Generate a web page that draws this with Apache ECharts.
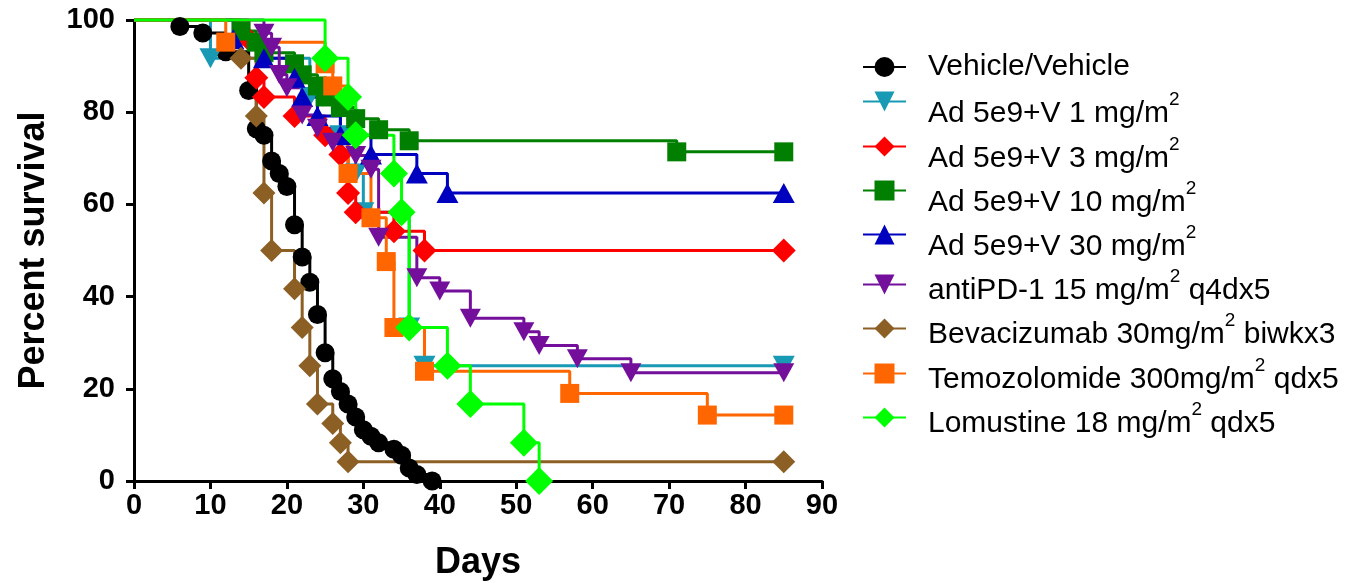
<!DOCTYPE html>
<html>
<head>
<meta charset="utf-8">
<title>Survival</title>
<script src="https://cdn.jsdelivr.net/npm/echarts@6/dist/echarts.min.js"></script>
<style>
  html, body { margin: 0; padding: 0; background: #fff; }
  #chart { width: 1357px; height: 583px; }
</style>
</head>
<body>
<div id="chart"></div>
<script>
// Kaplan-Meier survival: [day, percent surviving] at each step (first point is the start)
const vehicle = [[0,100],[6,98.6],[9,97.2],[12,93.1],[15,84.7],[16,76.4],[17,75],[18,69.4],[19,66.7],[20,63.9],[21,55.6],[22,48.6],[23,43.1],[24,36.1],[25,27.8],[26,22.2],[27,19.4],[28,16.7],[29,13.9],[30,11.1],[31,9.7],[32,8.3],[34,6.9],[35,5.6],[36,2.8],[37,1.4],[39,0]];
const ad1 = [[0,100],[10,91.7],[23,83.3],[27,75],[29,66.7],[30,58.3],[36,33.3],[38,25],[85,25]];
const ad3 = [[0,100],[15,95.8],[16,87.5],[17,83.3],[21,79.2],[25,75],[27,70.8],[28,62.5],[29,58.3],[34,54.2],[38,50],[85,50]];
const ad10 = [[0,100],[14,97.6],[16,95.2],[17,92.9],[21,90.5],[22,88.1],[24,85.7],[25,83.3],[27,81],[29,78.6],[32,76.2],[36,73.8],[71,71.4],[85,71.4]];
const ad30 = [[0,100],[13,95.8],[17,91.7],[21,87.5],[22,83.3],[24,79.2],[27,75],[31,70.8],[37,66.7],[41,62.5],[85,62.5]];
const antiPD1 = [[0,100],[17,97.1],[18,94.1],[19,88.2],[20,85.3],[22,79.4],[24,76.5],[26,73.5],[29,70.6],[31,67.6],[32,52.9],[37,44.1],[40,41.2],[44,35.3],[51,32.4],[53,29.4],[58,26.5],[65,23.5],[85,23.5]];
const bevacizumab = [[0,100],[14,91.7],[16,79.2],[17,62.5],[18,50],[21,41.7],[22,33.3],[23,25],[24,16.7],[26,12.5],[27,8.3],[28,4.2],[85,4.2]];
const temozolomide = [[0,100],[12,95.2],[25,90.5],[26,85.7],[28,66.7],[31,57.1],[33,47.6],[34,33.3],[38,23.8],[57,19],[75,14.3],[85,14.3]];
const lomustine = [[0,100],[25,91.7],[28,83.3],[29,75],[34,66.7],[35,58.3],[36,33.3],[41,25],[44,16.7],[51,8.3],[53,0]];

const groupNames = [
  'Vehicle/Vehicle',
  'Ad 5e9+V 1 mg/m²',
  'Ad 5e9+V 3 mg/m²',
  'Ad 5e9+V 10 mg/m²',
  'Ad 5e9+V 30 mg/m²',
  'antiPD-1 15 mg/m² q4dx5',
  'Bevacizumab 30mg/m² biwkx3',
  'Temozolomide 300mg/m² qdx5',
  'Lomustine 18 mg/m² qdx5'
];
const groupData = [vehicle, ad1, ad3, ad10, ad30, antiPD1, bevacizumab, temozolomide, lomustine];

const xTicks = { min: 0, max: 90, step: 10 };
const yTicks = { min: 0, max: 100, step: 20 };

const FONT = '"Liberation Sans", Arial, sans-serif';

// marker look for each group
const looks = [
  { color: '#000000', symbol: 'circle', size: 19, rotate: 0 },
  { color: '#1899B4', symbol: 'triangle', size: [22, 20], rotate: 180 },
  { color: '#FF0000', symbol: 'diamond', size: 24, rotate: 0 },
  { color: '#007F00', symbol: 'rect', size: 19, rotate: 0 },
  { color: '#0000BF', symbol: 'triangle', size: [22, 20], rotate: 0 },
  { color: '#730F9B', symbol: 'triangle', size: [21, 19], rotate: 180 },
  { color: '#8C5F24', symbol: 'diamond', size: 23, rotate: 0 },
  { color: '#FF6600', symbol: 'rect', size: 19, rotate: 0 },
  { color: '#00FF00', symbol: 'diamond', size: 28, rotate: 0 }
];

const series = groupNames.map((name, i) => ({
  name: name,
  type: 'line',
  step: 'end',
  clip: false,
  symbol: looks[i].symbol,
  symbolSize: looks[i].size,
  symbolRotate: looks[i].rotate,
  showAllSymbol: true,
  color: looks[i].color,
  itemStyle: { color: looks[i].color, opacity: 1 },
  lineStyle: { color: looks[i].color, width: 3 },
  emphasis: { disabled: true },
  animation: false,
  data: groupData[i].map((p, k) => k === 0 ? { value: p, symbol: 'none' } : p)
}));

// one legend block per row: top edge and text padding
const legendTops = [52, 90.5, 135.5, 179.5, 223.5, 267.5, 311.5, 356.5, 400.5];
function legendPad(i) {
  if (i === 0) return [0, 0, 8, 17];
  if (i <= 4) return [16, 0, 0, 17];
  return [4, 0, 0, 17];
}
function richLabel(name) {
  const parts = name.split('²');
  if (parts.length === 1) return '{m|' + name + '}';
  return '{m|' + parts[0] + '}{s|2}' + (parts[1] ? '{m|' + parts[1] + '}' : '');
}
const legends = groupNames.map((name, i) => ({
  data: [name],
  orient: 'vertical',
  left: 862,
  top: legendTops[i],
  padding: 0,
  itemWidth: 43,
  itemHeight: 25,
  selectedMode: false,
  formatter: richLabel,
  textStyle: {
    padding: legendPad(i),
    color: '#000',
    fontFamily: FONT,
    rich: {
      m: { fontSize: 30, lineHeight: 38, verticalAlign: 'bottom', fontFamily: FONT, color: '#000' },
      s: { fontSize: 19, lineHeight: 19, verticalAlign: 'top', fontFamily: FONT, color: '#000' }
    }
  }
}));

const axisLabelStyle = { color: '#000', fontFamily: FONT, fontWeight: 'bold', fontSize: 29 };
const axisNameStyle = { color: '#000', fontFamily: FONT, fontWeight: 'bold', fontSize: 36 };

const chart = echarts.init(document.getElementById('chart'), null, { renderer: 'canvas' });
chart.setOption({
  backgroundColor: '#ffffff',
  animation: false,
  grid: { left: 134, right: 535, top: 20, bottom: 102, containLabel: false, outerBoundsMode: 'none' },
  xAxis: {
    type: 'value',
    min: xTicks.min, max: xTicks.max, interval: xTicks.step,
    name: 'Days',
    nameLocation: 'middle',
    nameGap: 64,
    nameTextStyle: axisNameStyle,
    axisLine: { show: true, onZero: false, lineStyle: { color: '#000', width: 3 } },
    axisTick: { show: true, length: 8, lineStyle: { color: '#000', width: 3 } },
    axisLabel: Object.assign({ margin: 10 }, axisLabelStyle),
    splitLine: { show: false }
  },
  yAxis: {
    type: 'value',
    min: yTicks.min, max: yTicks.max, interval: yTicks.step,
    name: 'Percent survival',
    nameLocation: 'middle',
    nameGap: 82,
    nameTextStyle: axisNameStyle,
    axisLine: { show: true, onZero: false, lineStyle: { color: '#000', width: 3 } },
    axisTick: { show: true, length: 8, lineStyle: { color: '#000', width: 3 } },
    axisLabel: Object.assign({ margin: 19 }, axisLabelStyle),
    splitLine: { show: false }
  },
  legend: legends,
  series: series
});
</script>
</body>
</html>
